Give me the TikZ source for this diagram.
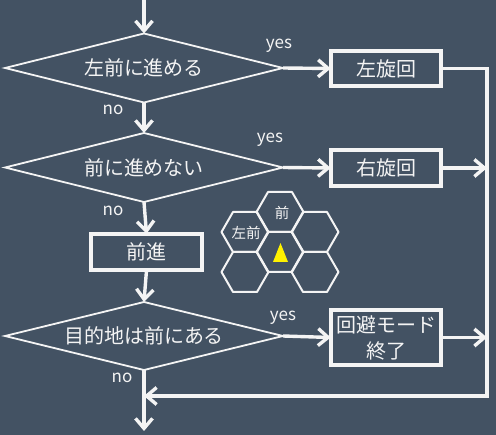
\documentclass[tikz,border=0pt]{standalone}
\usepackage{fontspec}
\setmainfont{Noto Sans CJK JP}
\usetikzlibrary{shapes.geometric,arrows.meta}
\definecolor{bg}{HTML}{435263}
\definecolor{fg}{HTML}{F4F4F4}
\begin{document}
\begin{tikzpicture}[x=1pt,y=-1pt,
  every node/.style={text=fg},
  dec/.style={diamond, draw=fg, line width=1.8pt, minimum width=278pt, minimum height=69pt, inner sep=0pt, outer sep=0pt, aspect=4, font=\fontsize{20}{24}\selectfont},
  proc/.style={rectangle, draw=fg, line width=3.8pt, minimum width=110.5pt, minimum height=35.5pt, inner sep=0pt, outer sep=0pt, font=\fontsize{20}{24}\selectfont},
  lbl/.style={font=\fontsize{17}{20}\selectfont, inner sep=0pt},
  conn/.style={draw=fg, line width=3.4pt, -{Straight Barb[length=10pt,width=17pt]}},
  hex/.style={draw=fg, line width=2pt, line join=round},
  hexlbl/.style={font=\fontsize{14.5}{16}\selectfont, inner sep=0pt},
]
\fill[bg] (0,0) rectangle (496,435);
\useasboundingbox (0,0) rectangle (496,435);

% decisions
\node[dec] (d1) at (144,68) {左前に進める};
\node[dec] (d2) at (144,167.5) {前に進めない};
\node[dec, minimum height=68pt] (d3) at (144,336) {目的地は前にある};

% processes
\node[proc] (b1) at (386,68.5) {左旋回};
\node[proc] (b2) at (386,168) {右旋回};
\node[proc, minimum width=111.5pt, minimum height=36.5pt] (b3) at (146.5,252) {前進};
\node[proc, minimum height=55.5pt, align=center, font=\fontsize{20}{26}\selectfont] (b4) at (386,337.5) {回避モード\\終了};

% coordinates
\coordinate (start) at (144,0);
\coordinate (end) at (144,431);
\coordinate (r1) at (487,68.5);
\coordinate (r4) at (487,396);
\coordinate (m) at (144,396);

% connectors
\draw[conn] (start) -- (d1.north);
\draw[conn] (d1.east) -- (b1.west);
\draw[conn] (d2.east) -- (b2.west);
\draw[conn] (d3.east) -- (b4.west);
\draw[conn] (d1.south) -- (d2.north);
\draw[conn] (d2.south) -- (b3.north);
\draw[conn] (b3.south) -- (d3.north);
\draw[conn] (d3.south) -- (end);
\draw[conn, line join=miter] (b1.east) -- (r1) -- (r4) -- (m);
\draw[conn] (b2.east) -- (b2.east -| r1);
\draw[conn] (b4.east) -- (b4.east -| r1);

% labels
\node[lbl] (y1) at (279,46) {yes};
\node[lbl] (n1) at (113,110) {no};
\node[lbl] (y2) at (270,140) {yes};
\node[lbl] (n2) at (113,211) {no};
\node[lbl] (y3) at (283,318) {yes};
\node[lbl] (n3) at (122,378) {no};

% hex grid
\foreach \cx/\cy in {245/232,245/272,280/212,280/252,315/232,315/272}{
  \draw[hex] (\cx,\cy) +(-23.5,0) -- +(-12,-20) -- +(12,-20) -- +(23.5,0) -- +(12,20) -- +(-12,20) -- cycle;
}
\node[hexlbl] (hf) at (282,213) {前};
\node[hexlbl] (hl) at (246,233) {左前};
\fill[yellow] (280.5,243) -- (288,262) -- (273,262) -- cycle;
\end{tikzpicture}
\end{document}
